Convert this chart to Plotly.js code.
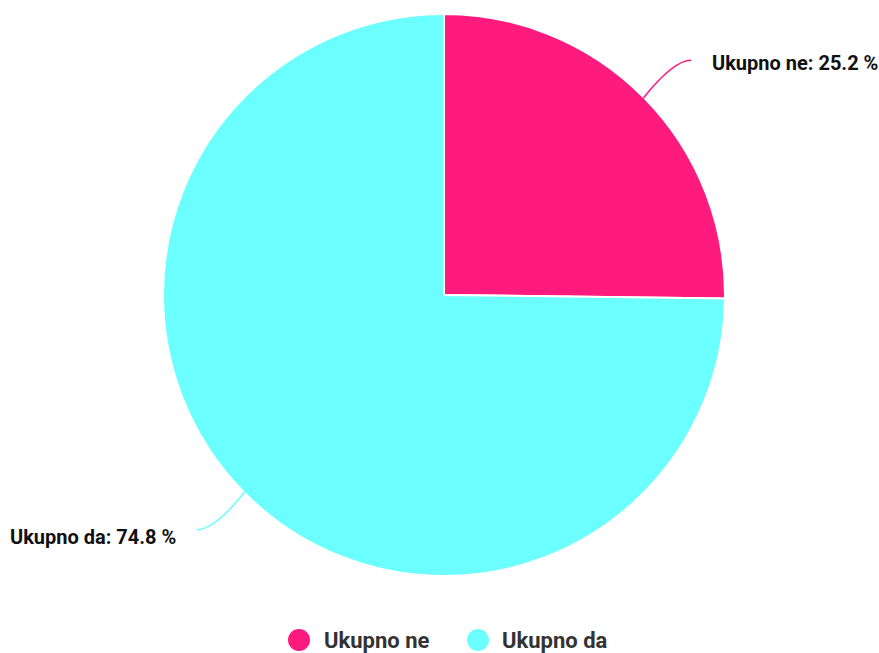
<!DOCTYPE html>
<html>
<head>
<meta charset="utf-8">
<script src="https://cdn.plot.ly/plotly-3.0.1.min.js"></script>
<style>html,body{margin:0;padding:0;background:#fff;}#chart{width:879px;height:653px;}</style>
</head>
<body>
<div id="chart"></div>
<script>
const labels = ["Ukupno ne", "Ukupno da"];
const values = [25.2, 74.8];
const colors = ["#FF1A7D", "#6BFFFF"];

const W = 879, H = 653;
const cx = 444, cy = 295, R = 281;
const total = values.reduce((a, b) => a + b, 0);

const pie = {
  type: "pie",
  labels: labels,
  values: values,
  sort: false,
  direction: "clockwise",
  rotation: 0,
  textinfo: "none",
  hoverinfo: "label+percent",
  marker: {colors: colors, line: {color: "#ffffff", width: 2}},
  domain: {x: [(cx - R) / W, (cx + R) / W], y: [1 - (cy + R) / H, 1 - (cy - R) / H]},
  showlegend: false
};

const P = (x, y) => (x / W).toFixed(5) + "," + (1 - y / H).toFixed(5);
const shapes = [], annotations = [];
let cum = 0;
values.forEach((v, i) => {
  const mid = (cum + v / 2) / total * 2 * Math.PI;
  cum += v;
  const px = cx + (R - 1) * Math.sin(mid), py = cy - (R - 1) * Math.cos(mid);
  const right = Math.sin(mid) >= 0;
  const dx = right ? 1 : -1;
  const dy = Math.cos(mid) >= 0 ? -1 : 1;
  const ex = px + dx * 48, ey = py + dy * 38;
  const qx = px + dx * 30, qy = ey;
  shapes.push({
    type: "path", xref: "paper", yref: "paper",
    path: "M" + P(px, py) + " Q" + P(qx, qy) + " " + P(ex, ey),
    line: {color: colors[i], width: 1.5}
  });
  annotations.push({
    xref: "paper", yref: "paper",
    x: (ex + dx * 19) / W, y: 1 - (ey + (right ? 3 : 7)) / H,
    xanchor: right ? "left" : "right", yanchor: "middle",
    text: labels[i] + ": " + v.toFixed(1) + " %",
    showarrow: false,
    font: {family: "Roboto", size: 20, color: "#111111", weight: 700}
  });
});

// legend (circles + text), laid out manually
const legendY = 640;
const legendItems = [{cx: 299, tx: 322}, {cx: 478, tx: 500}];
labels.forEach((l, i) => {
  const it = legendItems[i];
  shapes.push({
    type: "circle", xref: "paper", yref: "paper",
    x0: (it.cx - 11) / W, x1: (it.cx + 11) / W,
    y0: 1 - (legendY + 11) / H, y1: 1 - (legendY - 11) / H,
    fillcolor: colors[i], line: {width: 0}
  });
  annotations.push({
    xref: "paper", yref: "paper", x: it.tx / W, y: 1 - legendY / H,
    xanchor: "left", yanchor: "middle", showarrow: false, text: l,
    font: {family: "Roboto", size: 22, color: "#333333", weight: 700}
  });
});

const layout = {
  width: W, height: H,
  margin: {l: 0, r: 0, t: 0, b: 0},
  paper_bgcolor: "#ffffff", plot_bgcolor: "#ffffff",
  showlegend: false,
  shapes: shapes,
  annotations: annotations
};

Plotly.newPlot("chart", [pie], layout, {displayModeBar: false, staticPlot: true});
</script>
</body>
</html>
